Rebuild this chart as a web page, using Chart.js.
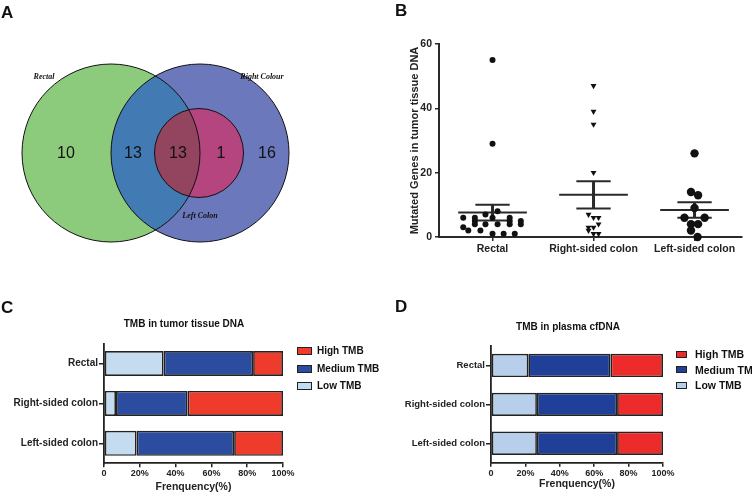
<!DOCTYPE html>
<html lang="en">
<head>
<meta charset="UTF-8">
<title>Mutated genes and TMB by tumour site</title>
<script src="https://cdn.jsdelivr.net/npm/chart.js"></script>
<style>
    body { margin: 0; background: #fff; font-family: "Liberation Sans", Arial, sans-serif; color: #111; }
    #page { position: relative; width: 752px; height: 494px; overflow: hidden; }
    canvas { position: absolute; }
    .txt { position: absolute; line-height: 0; white-space: nowrap; font-weight: bold; }
    .letter { font-size: 17px; }
    .ttl { font-size: 10px; transform: translateX(-50%); }
    .legend { position: absolute; font-weight: bold; white-space: nowrap; }
    .legend .item { position: absolute; left: 0; line-height: 0; }
    .legend .box { position: absolute; border: 1.3px solid #222; box-sizing: border-box; }
</style>
</head>
<body>
<div id="page">
    <canvas id="chartA" width="300" height="250" style="left:0;top:0"></canvas>
    <canvas id="chartB" width="372" height="262" style="left:380px;top:0"></canvas>
    <canvas id="chartC" width="380" height="224" style="left:0;top:270px"></canvas>
    <canvas id="chartD" width="372" height="224" style="left:380px;top:270px"></canvas>

    <div class="txt letter" style="left:1px;top:13px">A</div>
    <div class="txt letter" style="left:395px;top:11px">B</div>
    <div class="txt letter" style="left:1px;top:308px">C</div>
    <div class="txt letter" style="left:395px;top:307px">D</div>
    <div class="txt ttl" style="left:184px;top:324px">TMB in tumor tissue DNA</div>
    <div class="txt ttl" style="left:568px;top:327px">TMB in plasma cfDNA</div>

    <div class="legend" id="legendC" style="left:297px;top:351px;font-size:10px"></div>
    <div class="legend" id="legendD" style="left:676px;top:354px;font-size:10.5px"></div>
</div>

<script>
    // ---- data ----
    // Venn (A): Rectal only, Rectal+Right, all three, Right+Left, Right only
    const vennSets = ['Rectal', 'Right Colour', 'Left Colon'];
    const vennCounts = [10, 13, 13, 1, 16];

    // scatter (B)
    const groups = ['Rectal', 'Right-sided colon', 'Left-sided colon'];
    const rectalX = [1.00, 1.00, 1.05, 0.93, 0.71, 0.825, 1.17, 1.00, 0.825, 1.17, 1.28, 0.825, 0.93, 1.05, 1.17, 1.28, 0.71, 0.76, 0.88, 1.00, 1.11, 1.22];
    const rectalY = [55, 29, 8, 7, 6, 6, 6, 6, 5, 5, 5, 4, 4, 4, 4, 4, 3, 2, 2, 1, 1, 1];
    const rightX = [2.0, 2.0, 2.0, 2.0, 1.95, 2.0, 2.05, 2.05, 1.95, 2.0, 1.95, 2.0, 2.05];
    const rightY = [47, 39, 35, 20, 7, 6, 6, 4, 3, 3, 2, 1, 1];
    const leftX = [3.0, 2.965, 3.035, 3.0, 2.9, 3.1, 2.965, 3.035, 2.965, 3.03];
    const leftY = [26, 14, 13, 9, 6, 6, 4, 4, 2, 0];
    const groupMean = [7.6, 13.1, 8.4];
    const groupSem = [2.45, 4.25, 2.4];
    const yTicksB = [0, 20, 40, 60];

    // stacked bars (C, D), percent of patients
    const tmbLevels = ['Low TMB', 'Medium TMB', 'High TMB'];
    const tissueLow = [33.3, 6.7, 18.2];
    const tissueMed = [50.0, 40.0, 54.5];
    const tissueHigh = [16.7, 53.3, 27.3];
    const plasmaLow = [21.7, 26.7, 26.7];
    const plasmaMed = [47.8, 46.6, 46.6];
    const plasmaHigh = [30.5, 26.7, 26.7];
    const pctTicks = [0, 20, 40, 60, 80, 100];

    Chart.defaults.font.family = '"Liberation Sans", Arial, sans-serif';
    Chart.defaults.color = '#222';

    // ---- A: venn, drawn in the chart's own units ----
    const vennLayout = {
        circles: [{x: 111, y: 153, r: 89}, {x: 200, y: 153, r: 89}, {x: 199, y: 153, r: 44.5}],
        countX: [66, 133, 178, 221, 267], countY: 154,
        names: [{x: 44, y: 77}, {x: 262, y: 77}, {x: 200, y: 216}]
    };
    const vennColors = {rectal: '#8dcb7c', right: '#6c78bc', rectalRight: '#427ab4', left: '#b4457f', all: '#93445f'};

    const vennPlugin = {
        id: 'venn',
        beforeDatasetsDraw(chart) {
            const {ctx, scales: {x, y}} = chart;
            const c = vennLayout.circles.map(k => ({
                cx: x.getPixelForValue(k.x), cy: y.getPixelForValue(k.y),
                r: x.getPixelForValue(k.x + k.r) - x.getPixelForValue(k.x)
            }));
            const path = k => { ctx.beginPath(); ctx.arc(k.cx, k.cy, k.r, 0, Math.PI * 2); };
            const fill = (k, col) => { path(k); ctx.fillStyle = col; ctx.fill(); };
            ctx.save();
            fill(c[0], vennColors.rectal);
            fill(c[1], vennColors.right);
            ctx.save(); path(c[0]); ctx.clip(); fill(c[1], vennColors.rectalRight); ctx.restore();
            fill(c[2], vennColors.left);
            ctx.save(); path(c[0]); ctx.clip(); fill(c[2], vennColors.all); ctx.restore();
            ctx.strokeStyle = '#111';
            ctx.lineWidth = 1;
            c.forEach(k => { path(k); ctx.stroke(); });
            ctx.restore();
        },
        afterDatasetsDraw(chart) {
            const {ctx, scales: {x, y}} = chart;
            ctx.save();
            ctx.fillStyle = '#111';
            ctx.textAlign = 'center';
            ctx.textBaseline = 'middle';
            ctx.font = '16px "Liberation Sans", Arial';
            chart.data.datasets[0].data.forEach(p => {
                ctx.fillText(p.v, x.getPixelForValue(p.x), y.getPixelForValue(p.y));
            });
            ctx.font = 'italic bold 8px "Liberation Serif", serif';
            vennSets.forEach((s, i) => {
                const n = vennLayout.names[i];
                ctx.fillText(s, x.getPixelForValue(n.x), y.getPixelForValue(n.y));
            });
            ctx.restore();
        }
    };

    new Chart(document.getElementById('chartA'), {
        type: 'scatter',
        data: { datasets: [{
            data: vennCounts.map((v, i) => ({x: vennLayout.countX[i], y: vennLayout.countY, v: v})),
            pointRadius: 0
        }] },
        options: {
            responsive: false, animation: false,
            layout: { padding: 0 },
            plugins: { legend: { display: false }, tooltip: { enabled: false } },
            scales: {
                x: { display: false, min: 0, max: 300 },
                y: { display: false, min: 0, max: 250, reverse: true }
            }
        },
        plugins: [vennPlugin]
    });

    // ---- B: scatter with mean +/- SEM ----
    const pts = (xs, ys) => xs.map((x, i) => ({x: x, y: ys[i]}));
    const meanLines = [], semCaps = [], semStems = [];
    groups.forEach((g, i) => {
        const c = i + 1, m = groupMean[i], s = groupSem[i];
        meanLines.push({x: c - 0.34, y: m}, {x: c + 0.34, y: m}, {x: c, y: null});
        semCaps.push({x: c - 0.17, y: m + s}, {x: c + 0.17, y: m + s}, {x: c, y: null},
                     {x: c - 0.17, y: m - s}, {x: c + 0.17, y: m - s}, {x: c, y: null});
        semStems.push({x: c, y: m - s}, {x: c, y: m + s}, {x: c, y: null});
    });
    const axisCol = '#2a2a2a';
    const tickFontB = { weight: 'bold', size: 10.5 };

    new Chart(document.getElementById('chartB'), {
        type: 'scatter',
        data: { datasets: [
            { data: pts(rectalX, rectalY), pointStyle: 'circle', pointRadius: 3, backgroundColor: '#111', borderWidth: 0, clip: false },
            { data: pts(rightX, rightY), pointStyle: 'triangle', pointRotation: 180, pointRadius: 3.4, backgroundColor: '#111', borderWidth: 0, clip: false },
            { data: pts(leftX, leftY), pointStyle: 'circle', pointRadius: 4.2, backgroundColor: '#111', borderWidth: 0, clip: false },
            { type: 'line', data: meanLines, borderColor: '#2a2a2a', borderWidth: 2, pointRadius: 0, spanGaps: false, clip: false },
            { type: 'line', data: semCaps, borderColor: '#2a2a2a', borderWidth: 2, pointRadius: 0, spanGaps: false, clip: false },
            { type: 'line', data: semStems, borderColor: '#2a2a2a', borderWidth: 3, pointRadius: 0, spanGaps: false, clip: false }
        ] },
        options: {
            responsive: false, animation: false,
            layout: { padding: { top: 44, right: 10, left: 28, bottom: 0 } },
            plugins: { legend: { display: false }, tooltip: { enabled: false } },
            scales: {
                x: {
                    type: 'linear', min: 0.47, max: 3.47,
                    afterBuildTicks: s => { s.ticks = [1, 2, 3].map(v => ({value: v})); },
                    ticks: { callback: v => groups[v - 1], font: tickFontB, color: '#222', padding: 2, maxRotation: 0, autoSkip: false },
                    grid: { drawOnChartArea: false, tickLength: 4, color: axisCol, lineWidth: 1.5 },
                    border: { display: true, color: axisCol, width: 2 },
                    afterFit: s => { s.height = 25; }
                },
                y: {
                    min: 0, max: 60,
                    afterBuildTicks: s => { s.ticks = yTicksB.map(v => ({value: v})); },
                    ticks: { font: tickFontB, color: '#222', padding: 3 },
                    grid: { drawOnChartArea: false, tickLength: 4, color: axisCol, lineWidth: 1.5 },
                    border: { display: true, color: axisCol, width: 2 },
                    title: { display: true, text: 'Mutated Genes in tumor tissue DNA', font: { weight: 'bold', size: 11 }, color: '#222', padding: 0 },
                    afterFit: s => { s.width = 31; }
                }
            }
        }
    });

    // ---- C, D: stacked horizontal bars ----
    function tmbChart(id, low, med, high, colors, box) {
        const vals = [low, med, high];
        return new Chart(document.getElementById(id), {
            type: 'bar',
            data: {
                labels: groups,
                datasets: tmbLevels.map((lvl, i) => ({
                    label: lvl, data: vals[i], backgroundColor: colors[i],
                    borderColor: '#222', borderWidth: 1.7, borderSkipped: false,
                    barPercentage: box.bar, categoryPercentage: 1
                }))
            },
            options: {
                indexAxis: 'y', responsive: false, animation: false,
                layout: { padding: { top: box.top, right: box.right, left: 0, bottom: 0 } },
                plugins: { legend: { display: false }, tooltip: { enabled: false } },
                scales: {
                    x: {
                        stacked: true, min: 0, max: 100,
                        afterBuildTicks: s => { s.ticks = pctTicks.map(v => ({value: v})); },
                        ticks: { callback: v => v === 0 ? '0' : v + '%', font: { weight: 'bold', size: 9 }, padding: 1, maxRotation: 0, autoSkip: false },
                        grid: { drawOnChartArea: false, tickLength: 4, color: '#222', lineWidth: 1.5 },
                        border: { display: true, color: '#222', width: 1.8 },
                        title: { display: true, text: 'Frenquency(%)', font: { weight: 'bold', size: 10.5 }, padding: { top: 0, bottom: box.tpad } },
                        afterFit: s => { s.height = box.xh; }
                    },
                    y: {
                        stacked: true,
                        ticks: { font: { weight: 'bold', size: box.ytick }, padding: 1 },
                        grid: { drawOnChartArea: false, offset: false, tickLength: 5, color: '#222', lineWidth: 1.5 },
                        border: { display: true, color: '#222', width: 1.8 },
                        afterFit: s => { s.width = box.left; }
                    }
                }
            }
        });
    }

    const tissueColors = ['#c5dbf0', '#2b4c9f', '#ee3b2b'];
    const plasmaColors = ['#b7cfea', '#1f3f98', '#ec2b2a'];
    tmbChart('chartC', tissueLow, tissueMed, tissueHigh, tissueColors,
        { top: 73.5, right: 97, left: 104, xh: 30.7, tpad: 1, bar: 0.627, ytick: 10 });
    tmbChart('chartD', plasmaLow, plasmaMed, plasmaHigh, plasmaColors,
        { top: 76, right: 89, left: 111, xh: 31.3, tpad: 4, bar: 0.6, ytick: 9.5 });

    function legend(id, colors, bw, bh, gap, textX) {
        const el = document.getElementById(id);
        tmbLevels.slice().reverse().forEach((lvl, k) => {
            const col = colors[tmbLevels.length - 1 - k];
            el.insertAdjacentHTML('beforeend',
                '<div class="box" style="left:0;top:' + (k * gap - bh / 2) + 'px;width:' + bw + 'px;height:' + bh + 'px;background:' + col + '"></div>' +
                '<div class="item" style="left:' + textX + 'px;top:' + (k * gap) + 'px">' + lvl + '</div>');
        });
    }
    legend('legendC', tissueColors, 15, 8, 17.5, 20);
    legend('legendD', plasmaColors, 11, 7, 15.5, 19);
</script>
</body>
</html>
